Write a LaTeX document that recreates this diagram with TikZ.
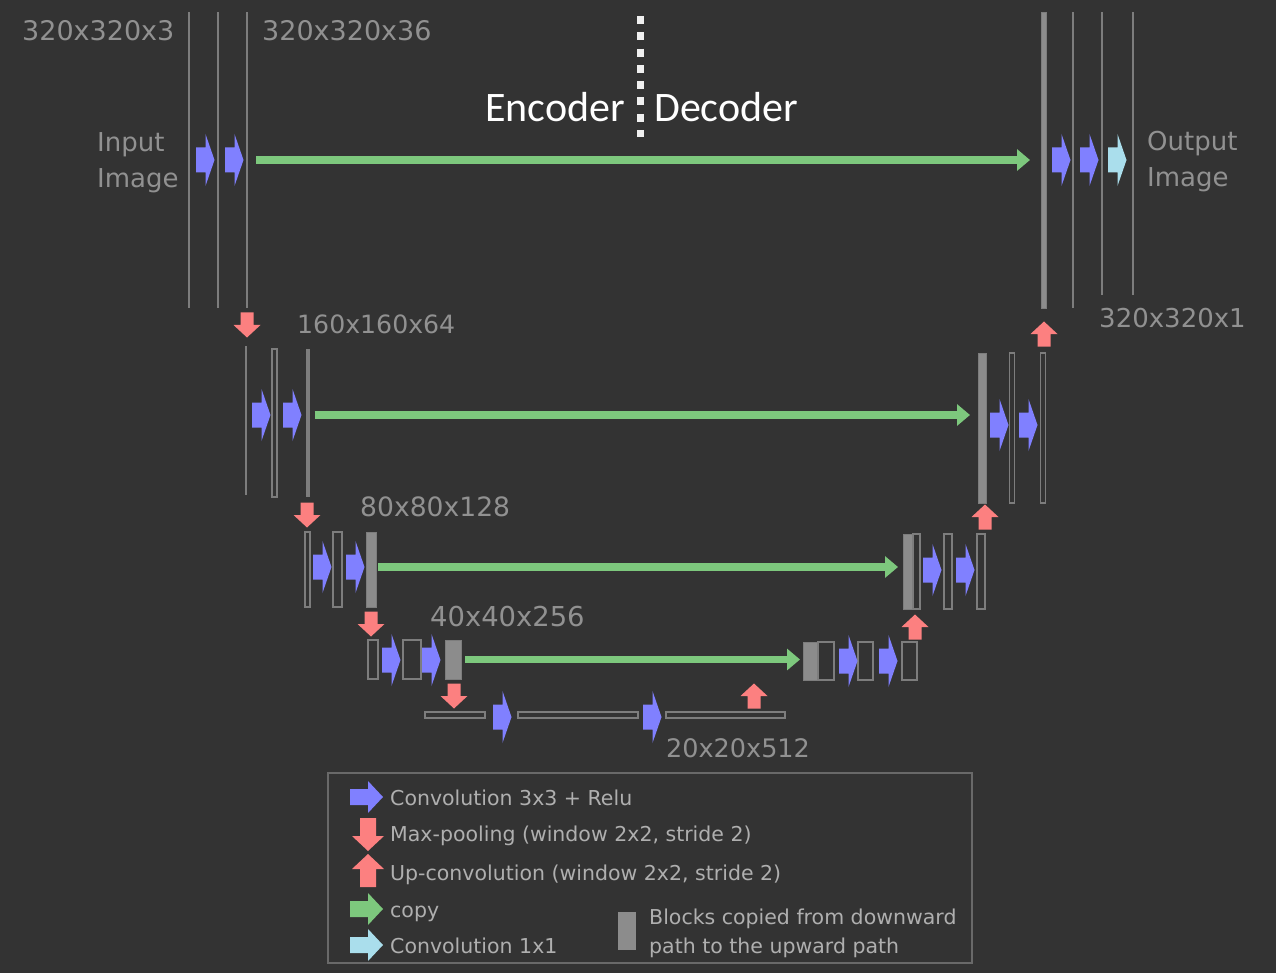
\documentclass[tikz,border=0pt]{standalone}
\usepackage{fontspec}
\setmainfont{DejaVu Sans}
\newfontfamily\calibfont{Carlito}
\usetikzlibrary{arrows.meta}

\definecolor{bg}{RGB}{51,51,51}
\definecolor{convblue}{RGB}{128,128,255}
\definecolor{poolred}{RGB}{252,128,128}
\definecolor{copygreen}{RGB}{125,200,125}
\definecolor{onecyan}{RGB}{170,222,236}
\definecolor{laygray}{RGB}{125,125,125}
\definecolor{copygray}{RGB}{140,140,140}
\definecolor{labgray}{RGB}{145,145,145}
\definecolor{leggray}{RGB}{175,175,175}
\definecolor{boxgray}{RGB}{105,105,105}
\definecolor{divwhite}{RGB}{240,240,240}

\tikzset{
  solidlayer/.style={fill=laygray, draw=none, inner sep=0pt, outer sep=0pt},
  outlayer/.style={draw=laygray, line width=1.3pt, inner sep=0pt, outer sep=0pt},
  copylayer/.style={fill=copygray, draw=laygray, line width=0.8pt, inner sep=0pt, outer sep=0pt},
  copyarr/.style={draw=copygreen, line width=7.5pt, -{Triangle[length=13pt,width=21pt]}},
  dimlabel/.style={text=labgray, inner sep=0pt, anchor=west},
  sidelabel/.style={text=labgray, inner sep=0pt, anchor=base west, font=\fontsize{26}{30}\selectfont},
  legtext/.style={text=leggray, inner sep=0pt, anchor=base west, font=\fontsize{20.5}{24}\selectfont},
  % small block arrow pointing right, used inside the network
  blockr/.pic={\fill[#1] (-9,-12.5) -- (0.5,-12.5) -- (0.5,-26) -- (9.5,0) -- (0.5,26) -- (0.5,12.5) -- (-9,12.5) -- cycle;},
  % pooling / up-convolution arrows
  pooldown/.pic={\fill[poolred] (-6.5,-12.5) -- (6.5,-12.5) -- (6.5,0) -- (13.5,0) -- (0,12.5) -- (-13.5,0) -- (-6.5,0) -- cycle;},
  convup/.pic={\fill[poolred] (-6.5,12.5) -- (6.5,12.5) -- (6.5,0) -- (13.5,0) -- (0,-12.5) -- (-13.5,0) -- (-6.5,0) -- cycle;},
  % larger arrows of the key
  legarr/.pic={\fill[#1] (-16,-8) -- (2,-8) -- (2,-16) -- (17,0) -- (2,16) -- (2,8) -- (-16,8) -- cycle;},
}

\begin{document}
\begin{tikzpicture}[x=1pt,y=-1pt]
\fill[bg] (0,0) rectangle (1276,973);
\useasboundingbox (0,0) rectangle (1276,973);

% ---------- level 1 (320x320) ----------
\node[solidlayer, minimum width=2.5pt, minimum height=296pt] (e1a) at (189,160) {};
\node[solidlayer, minimum width=2.5pt, minimum height=296pt] (e1b) at (218,160) {};
\node[solidlayer, minimum width=2.5pt, minimum height=296pt] (e1c) at (247,160) {};
\node[copylayer, minimum width=5pt, minimum height=296pt] (d1a) at (1043.5,160) {};
\node[solidlayer, minimum width=2.5pt, minimum height=296pt] (d1b) at (1073,160) {};
\node[solidlayer, minimum width=2.5pt, minimum height=283pt] (d1c) at (1102,153.5) {};
\node[solidlayer, minimum width=2.5pt, minimum height=283pt] (d1d) at (1133,153.5) {};

% ---------- level 2 (160x160) ----------
\node[solidlayer, minimum width=2.5pt, minimum height=149pt] (e2a) at (246,420.5) {};
\node[outlayer, minimum width=5pt, minimum height=148pt] (e2b) at (274.5,423) {};
\node[solidlayer, minimum width=4pt, minimum height=148pt] (e2c) at (307.5,423) {};
\node[copylayer, minimum width=8pt, minimum height=150pt] (d2a) at (982,428) {};
\node[outlayer, minimum width=5pt, minimum height=150pt] (d2b) at (1012,428) {};
\node[outlayer, minimum width=5pt, minimum height=150pt] (d2c) at (1043,428) {};

% ---------- level 3 (80x80) ----------
\node[outlayer, minimum width=5pt, minimum height=75pt] (e3a) at (307.5,569.5) {};
\node[outlayer, minimum width=9pt, minimum height=75pt] (e3b) at (337.5,569.5) {};
\node[copylayer, minimum width=10pt, minimum height=75pt] (e3c) at (371,569.5) {};
\node[copylayer, minimum width=10pt, minimum height=75pt] (d3x) at (908,571.5) {};
\node[outlayer, minimum width=7pt, minimum height=75pt] (d3a) at (916.5,571.5) {};
\node[outlayer, minimum width=8pt, minimum height=75pt] (d3b) at (948,571.5) {};
\node[outlayer, minimum width=8pt, minimum height=75pt] (d3c) at (981,571.5) {};

% ---------- level 4 (40x40) ----------
\node[outlayer, minimum width=10pt, minimum height=39pt] (e4a) at (373,659.5) {};
\node[outlayer, minimum width=18pt, minimum height=39pt] (e4b) at (412,659.5) {};
\node[copylayer, minimum width=16pt, minimum height=39pt] (e4c) at (453,659.5) {};
\node[copylayer, minimum width=15pt, minimum height=38pt] (d4x) at (810.5,661) {};
\node[outlayer, minimum width=16pt, minimum height=38pt] (d4a) at (826,661) {};
\node[outlayer, minimum width=15pt, minimum height=38pt] (d4b) at (865.5,661) {};
\node[outlayer, minimum width=15pt, minimum height=38pt] (d4c) at (909.5,661) {};

% ---------- bottleneck (20x20) ----------
\node[outlayer, minimum width=60pt, minimum height=6pt] (b1) at (455,715) {};
\node[outlayer, minimum width=120pt, minimum height=6pt] (b2) at (578,715) {};
\node[outlayer, minimum width=119pt, minimum height=6pt] (b3) at (725.5,715) {};

% ---------- convolution arrows ----------
\foreach \cx/\cy in {205/160, 234/160, 1061/160, 1089/160,
                     261/415, 292/415, 999/425, 1028/425,
                     322/567, 355/567, 932/570, 965/570,
                     391/660, 431/660, 848/661, 888/661,
                     502/717, 652/717}
  \pic at (\cx,\cy) {blockr=convblue};
\pic at (1117,160) {blockr=onecyan};

% ---------- pooling and up-convolution ----------
\foreach \cx/\cy in {247/325, 307/515, 371/624, 454/696}
  \pic at (\cx,\cy) {pooldown};
\foreach \cx/\cy in {1044/334, 985/517, 915/627, 754/696}
  \pic at (\cx,\cy) {convup};

% ---------- copy connections ----------
\draw[copyarr] ([xshift=8pt]e1c.east) -- ([xshift=-11pt]d1a.west);
\draw[copyarr] ([xshift=5pt,yshift=8pt]e2c.east) coordinate (c2) -- ([xshift=-8pt]d2a.west |- c2);
\draw[copyarr] ([xshift=2pt,yshift=2.5pt]e3c.east) coordinate (c3) -- ([xshift=-5pt]d3x.west |- c3);
\draw[copyarr] ([xshift=4pt]e4c.east) coordinate (c4) -- ([xshift=-3pt]d4x.west |- c4);

% ---------- size labels ----------
\node[dimlabel, font=\fontsize{27}{32}\selectfont] (t1) at (22,31) {320x320x3};
\node[dimlabel, font=\fontsize{27}{32}\selectfont] (t2) at (262,31) {320x320x36};
\node[dimlabel, font=\fontsize{25.2}{30}\selectfont] (t3) at (297,324) {160x160x64};
\node[dimlabel, font=\fontsize{26.6}{30}\selectfont] (t4) at (360,507) {80x80x128};
\node[dimlabel, font=\fontsize{27.4}{30}\selectfont] (t5) at (430,617) {40x40x256};
\node[dimlabel, font=\fontsize{25.5}{30}\selectfont] (t6) at (666,748) {20x20x512};
\node[dimlabel, font=\fontsize{26}{30}\selectfont] (t7) at (1099,318) {320x320x1};

\node[sidelabel] (in1) at (97,152) {Input};
\node[sidelabel] (in2) at (97,188) {Image};
\node[sidelabel] (out1) at (1147,151) {Output};
\node[sidelabel] (out2) at (1147,187) {Image};

% ---------- encoder / decoder split ----------
\draw[divwhite, line width=7pt, dash pattern=on 8pt off 8.3pt] (640,16) -- (640,137);
\node[text=white, inner sep=0pt, anchor=base east, font=\calibfont\fontsize{42}{48}\selectfont] (enc) at (625,122) {Encoder};
\node[text=white, inner sep=0pt, anchor=base west, font=\calibfont\fontsize{42}{48}\selectfont] (dec) at (654,122) {Decoder};

% ---------- key ----------
\node[draw=boxgray, line width=1.2pt, minimum width=644pt, minimum height=190pt, inner sep=0pt] (legend) at (650,868) {};
\pic at (366,797) {legarr=convblue};
\pic[rotate=-90] at (368,834) {legarr=poolred};
\pic[rotate=90] at (368,871) {legarr=poolred};
\pic at (366,909) {legarr=copygreen};
\pic at (366,945) {legarr=onecyan};
\node[fill=copygray, minimum width=18pt, minimum height=38pt, inner sep=0pt] (keyblock) at (627,931) {};

\node[legtext] (k1) at (390,805) {Convolution 3x3 + Relu};
\node[legtext] (k2) at (390,841) {Max-pooling (window 2x2, stride 2)};
\node[legtext] (k3) at (390,880) {Up-convolution (window 2x2, stride 2)};
\node[legtext] (k4) at (390,917) {copy};
\node[legtext] (k5) at (390,953) {Convolution 1x1};
\node[legtext] (k6) at (649,924) {Blocks copied from downward};
\node[legtext] (k7) at (649,953) {path to the upward path};
\end{tikzpicture}
\end{document}
